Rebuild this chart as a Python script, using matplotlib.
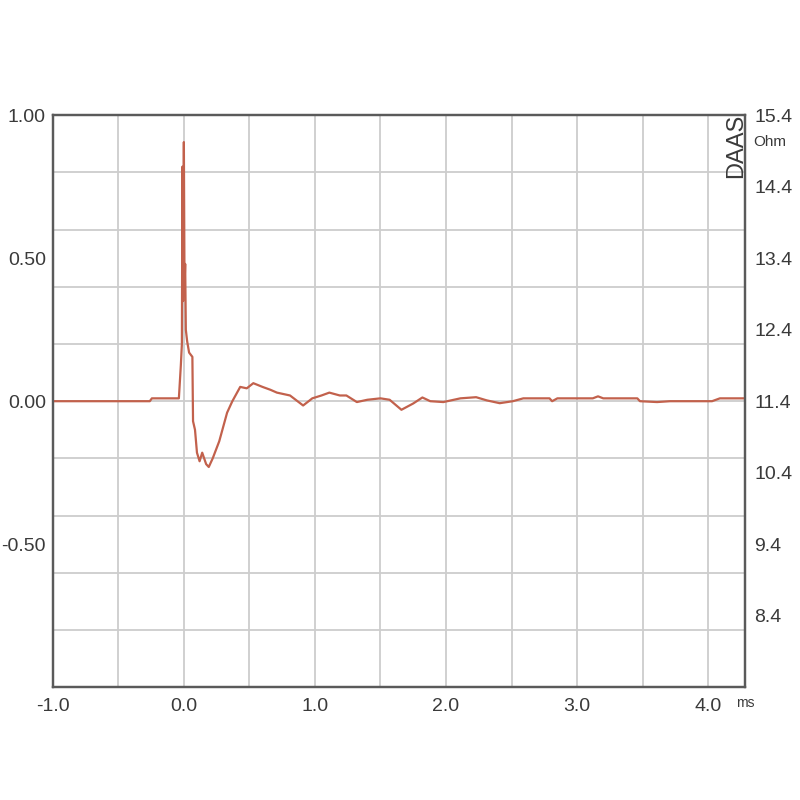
import matplotlib.pyplot as plt
import numpy as np

# impulse response (time in ms, normalised amplitude)
t_ms = [-1.0, -0.26, -0.244, -0.038, -0.023, -0.015, -0.011, -0.006, 0.0, 0.005,
        0.010, 0.015, 0.025, 0.040, 0.065, 0.070, 0.085, 0.10, 0.12, 0.14,
        0.17, 0.19, 0.22, 0.27, 0.33, 0.37, 0.43, 0.48, 0.53, 0.60,
        0.66, 0.71, 0.76, 0.81, 0.91, 0.98, 1.05, 1.11, 1.19, 1.24,
        1.32, 1.40, 1.50, 1.57, 1.66, 1.75, 1.82, 1.88, 1.98, 2.11,
        2.23, 2.31, 2.41, 2.51, 2.59, 2.79, 2.81, 2.85, 3.12, 3.16,
        3.20, 3.46, 3.48, 3.61, 3.71, 4.03, 4.09, 4.28]
amp = [0.0, 0.0, 0.01, 0.01, 0.126, 0.20, 0.82, 0.35, 0.906, 0.40,
       0.48, 0.25, 0.21, 0.17, 0.155, -0.07, -0.10, -0.18, -0.21, -0.18,
       -0.22, -0.23, -0.20, -0.14, -0.04, 0.0, 0.05, 0.045, 0.063, 0.05,
       0.04, 0.03, 0.025, 0.02, -0.015, 0.01, 0.02, 0.03, 0.02, 0.02,
       -0.003, 0.005, 0.01, 0.005, -0.03, -0.008, 0.013, 0.0, -0.003, 0.01,
       0.014, 0.003, -0.007, 0.0, 0.01, 0.01, 0.0, 0.01, 0.01, 0.017,
       0.01, 0.01, 0.0, -0.003, 0.0, 0.0, 0.01, 0.01]

left_ticks = [-0.5, 0.0, 0.5, 1.0]
left_labels = ["-0.50", "0.00", "0.50", "1.00"]
ohm_ticks = [8.4, 9.4, 10.4, 11.4, 12.4, 13.4, 14.4, 15.4]
x_ticks = [-1.0, 0.0, 1.0, 2.0, 3.0, 4.0]

plt.rcParams["font.family"] = ["Liberation Sans", "DejaVu Sans"]

txt = "#3a3a3a"
grid_c = "#cdcdcd"
frame_c = "#5a5a5a"

fig = plt.figure(figsize=(8, 8), dpi=100)
ax = fig.add_axes([0.066, 0.141, 0.865, 0.715])
ax.set_xlim(-1.0, 4.28)
ax.set_ylim(-1.0, 1.0)

ax.set_xticks(x_ticks)
ax.set_xticklabels([f"{v:.1f}" for v in x_ticks])
ax.set_yticks(left_ticks)
ax.set_yticklabels(left_labels)
for v in np.arange(-0.5, 4.28, 0.5):
    ax.axvline(v, color=grid_c, lw=1.3, zorder=0)
for v in np.arange(-0.8, 0.9, 0.2):
    ax.axhline(v, color=grid_c, lw=1.3, zorder=0)

ax.tick_params(which="both", length=0, labelsize=14, labelcolor=txt)
ax.tick_params(axis="x", pad=8)
ax.tick_params(axis="y", pad=5)
for s in ax.spines.values():
    s.set_color(frame_c)
    s.set_linewidth(1.6)

ax.plot(t_ms, amp, color="#c2614c", lw=1.6, zorder=3)

ax2 = ax.twinx()
ax2.set_ylim(7.4, 15.4)
ax2.set_yticks(ohm_ticks)
ax2.set_yticklabels([f"{v:.1f}" for v in ohm_ticks])
ax2.tick_params(length=0, labelsize=14, labelcolor=txt, pad=7)
for s in ax2.spines.values():
    s.set_color(frame_c)
    s.set_linewidth(1.6)

fig.text(0.942, 0.822, "Ohm", fontsize=11, color=txt, va="center", ha="left")
fig.text(0.920, 0.818, "DAAS", fontsize=17, color=txt, rotation=90,
         va="center", ha="center")
fig.text(0.920, 0.121, "ms", fontsize=10, color=txt, va="center", ha="left")

fig.savefig("out.png", dpi=100)
